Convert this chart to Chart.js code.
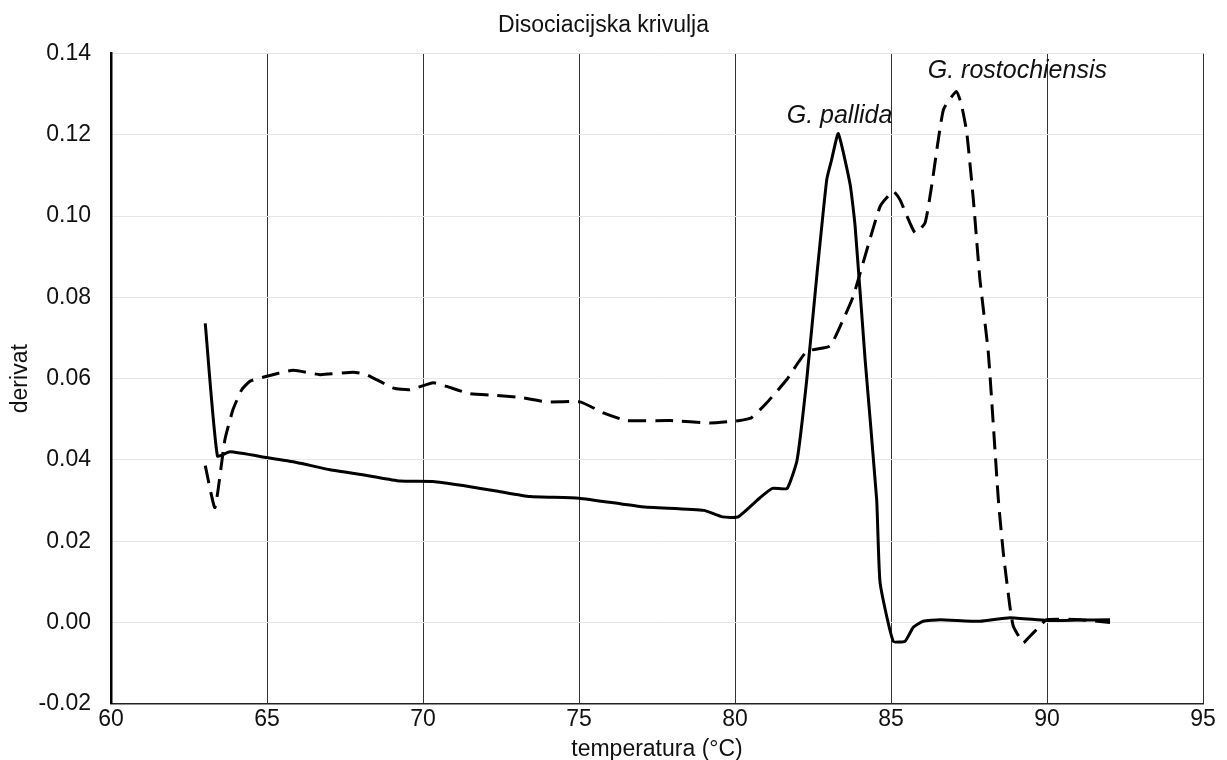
<!DOCTYPE html>
<html lang="hr">
<head>
    <meta charset="UTF-8">
    <title>Disociacijska krivulja</title>
    <script src="https://cdn.jsdelivr.net/npm/chart.js"></script>
    <style>
        body { margin: 0; background: #fff; }
        #wrap { width: 1227px; height: 760px; }
    </style>
</head>
<body>
    <div id="wrap"><canvas id="meltChart" width="1227" height="760"></canvas></div>
    <script>
        // G. pallida (puna linija)
        const pallidaT = [63.02, 63.41, 63.81, 64.99, 65.95, 67.02, 68.2, 69.26, 70.32, 71.28, 72.4, 73.43, 75.0, 77.0, 79.0, 79.6, 80.1, 80.8, 81.2, 81.67, 81.99, 82.3, 82.63, 82.94, 83.1, 83.31, 83.69, 83.85, 84.17, 84.54, 84.65, 85.07, 85.45, 85.71, 86.03, 86.57, 87.85, 88.81, 89.99, 91.0, 92.02];
        const pallidaD = [0.0736, 0.041, 0.042, 0.0406, 0.0394, 0.0376, 0.0362, 0.0348, 0.0347, 0.0337, 0.0323, 0.031, 0.0306, 0.0285, 0.0276, 0.026, 0.026, 0.0307, 0.033, 0.033, 0.040, 0.0598, 0.086, 0.109, 0.114, 0.1203, 0.1078, 0.0975, 0.0647, 0.0303, 0.0098, -0.0046, -0.0046, -0.0012, 0.0003, 0.0007, 0.0003, 0.0012, 0.0005, 0.0006, 0.0007];

        // G. rostochiensis (isprekidana linija)
        const rostoT = [63.02, 63.33, 63.65, 63.91, 64.19, 64.46, 64.99, 65.84, 66.7, 67.77, 68.19, 69.05, 69.58, 70.33, 70.76, 71.51, 72.36, 73.21, 73.96, 75.03, 75.78, 76.53, 77.92, 79.2, 80.16, 80.53, 81.01, 81.66, 82.3, 83.04, 83.37, 83.79, 84.65, 85.07, 85.29, 85.77, 86.09, 86.3, 86.68, 87.1, 87.27, 87.43, 87.64, 87.85, 88.12, 88.44, 88.6, 88.81, 88.92, 89.24, 89.4, 89.72, 89.99, 91.06, 92.02];
        const rostoD = [0.0386, 0.0283, 0.045, 0.0524, 0.0573, 0.0594, 0.0606, 0.0621, 0.061, 0.0616, 0.061, 0.0577, 0.0573, 0.059, 0.0581, 0.0563, 0.0559, 0.0553, 0.0543, 0.0543, 0.0516, 0.0497, 0.0497, 0.0491, 0.0497, 0.0504, 0.054, 0.0598, 0.0667, 0.068, 0.0729, 0.0803, 0.1024, 0.1061, 0.104, 0.0959, 0.0983, 0.1073, 0.1262, 0.1307, 0.127, 0.1205, 0.104, 0.0844, 0.0663, 0.0303, 0.0171, 0.004, -0.0009, -0.005, -0.0038, -0.0013, 0.0007, 0.0007, 0.0];

        const yTicks = [-0.02, 0, 0.02, 0.04, 0.06, 0.08, 0.10, 0.12, 0.14];

        // oznake vrsta uz vrhove
        const labelNames = ['G. pallida', 'G. rostochiensis'];
        const labelT = [83.35, 89.05];
        const labelD = [0.1228, 0.134];

        const toPoints = (xs, ys) => xs.map((x, i) => ({ x: x, y: ys[i] }));

        const peakLabels = {
            id: 'peakLabels',
            afterDatasetsDraw(chart) {
                const { ctx, scales } = chart;
                ctx.save();
                ctx.font = 'italic 25px "Liberation Sans", Arial, sans-serif';
                ctx.fillStyle = '#111';
                ctx.textAlign = 'center';
                ctx.textBaseline = 'alphabetic';
                labelNames.forEach((name, i) => {
                    ctx.fillText(name, scales.x.getPixelForValue(labelT[i]), scales.y.getPixelForValue(labelD[i]));
                });
                ctx.restore();
            }
        };

        Chart.defaults.font.family = '"Liberation Sans", Arial, sans-serif';
        Chart.defaults.color = '#111';

        const ctx = document.getElementById('meltChart').getContext('2d');
        new Chart(ctx, {
            type: 'line',
            data: {
                datasets: [{
                    label: 'G. pallida',
                    data: toPoints(pallidaT, pallidaD),
                    borderColor: '#000',
                    borderWidth: 3,
                    pointRadius: 0,
                    tension: 0.15
                }, {
                    label: 'G. rostochiensis',
                    data: toPoints(rostoT, rostoD),
                    borderColor: '#000',
                    borderWidth: 3,
                    borderDash: [18, 9],
                    pointRadius: 0,
                    tension: 0.15
                }]
            },
            options: {
                responsive: false,
                animation: false,
                layout: { padding: { left: 4, right: 24, top: 0, bottom: 0 } },
                scales: {
                    x: {
                        type: 'linear',
                        min: 60,
                        max: 95,
                        ticks: { stepSize: 5, font: { size: 23 }, padding: 2 },
                        grid: { color: '#333', lineWidth: 1, drawTicks: false },
                        border: { color: '#222', width: 1.5 },
                        title: { display: true, text: 'temperatura (°C)', font: { size: 23 }, padding: { top: 0, bottom: -3 } }
                    },
                    y: {
                        min: -0.02,
                        max: 0.14,
                        afterBuildTicks: axis => { axis.ticks = yTicks.map(v => ({ value: v })); },
                        ticks: { font: { size: 23 }, padding: 20, callback: v => v.toFixed(2) },
                        grid: { color: '#e6e6e6', lineWidth: 1, drawTicks: false },
                        border: { color: '#000', width: 2.5 },
                        title: { display: true, text: 'derivat', font: { size: 23 }, padding: { top: 3, bottom: -16 } }
                    }
                },
                plugins: {
                    legend: { display: false },
                    tooltip: { enabled: false },
                    title: {
                        display: true,
                        text: 'Disociacijska krivulja',
                        font: { size: 23, weight: 'normal' },
                        color: '#111',
                        padding: { top: 12, bottom: 14 }
                    }
                }
            },
            plugins: [peakLabels]
        });
    </script>
</body>
</html>
